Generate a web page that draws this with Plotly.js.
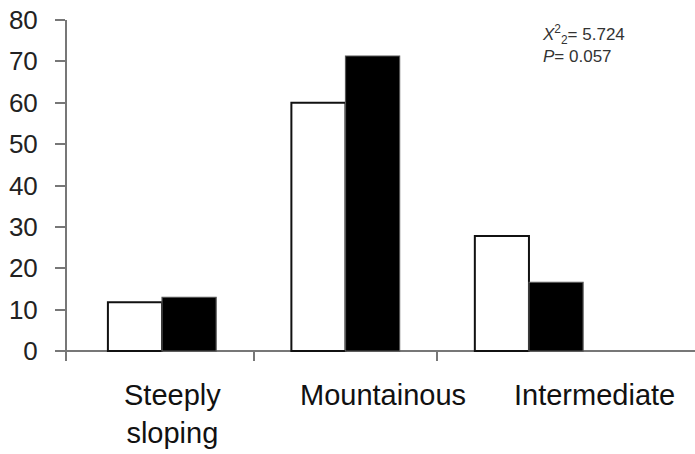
<!DOCTYPE html>
<html>
<head>
<meta charset="utf-8">
<script src="https://cdn.plot.ly/plotly-3.0.1.min.js"></script>
<style>html,body{margin:0;padding:0;background:#fff}#chart{width:695px;height:454px}</style>
</head>
<body>
<div id="chart"></div>
<script>
// Data
const categories = ["Steeply<br>sloping", "Mountainous", "Intermediate"];
const seriesWhite = [11.8, 60, 27.8];
const seriesBlack = [13, 71.3, 16.6];
const yTickVals = [0, 10, 20, 30, 40, 50, 60, 70, 80];
const statText = ["<i>X</i><sup>2</sup><sub>2</sub>= 5.724", "<i>P</i>= 0.057"];

// Styles / positions
const labelOffsets = [0.055, 0.205, 0.355];
const idx = categories.map((c, i) => i);
const FONT = '"Liberation Sans", Arial, sans-serif';

const traces = [
  {type: 'bar', x: idx, y: seriesWhite, marker: {color: '#ffffff', line: {color: '#111', width: 2}}, hoverinfo: 'none'},
  {type: 'bar', x: idx, y: seriesBlack, marker: {color: '#000000', line: {color: '#555', width: 1.2}}, hoverinfo: 'none'}
];

const annotations = categories.map((c, i) => ({
  x: i + labelOffsets[i], xref: 'x', y: 0, yref: 'paper', yanchor: 'top', xanchor: 'center',
  text: c, showarrow: false, font: {family: FONT, size: 29, color: '#111'}, yshift: -16
}));
annotations.push({
  x: 0.753, xref: 'paper', y: 1.0, yref: 'paper', xanchor: 'left', yanchor: 'top', align: 'left',
  text: statText.join('<br>'), showarrow: false, font: {family: FONT, size: 17, color: '#333'}
});

const layout = {
  width: 695, height: 454,
  margin: {l: 67, r: 0, t: 20, b: 93},
  paper_bgcolor: '#fff', plot_bgcolor: '#fff',
  showlegend: false,
  barmode: 'group', bargap: 0.41, bargroupgap: 0,
  font: {family: FONT, color: '#111'},
  xaxis: {
    range: [-0.518, 2.905], showgrid: false, zeroline: false, showline: false,
    tickmode: 'array', tickvals: [0.5, 1.5], showticklabels: false,
    ticks: 'inside', ticklen: 10, tickwidth: 2, tickcolor: '#777'
  },
  yaxis: {
    range: [-2.4, 80], showgrid: false,
    zeroline: true, zerolinecolor: '#777', zerolinewidth: 2,
    showline: true, linecolor: '#777', linewidth: 2,
    tickmode: 'array', tickvals: yTickVals, ticktext: yTickVals.map(String),
    ticks: 'outside', ticklen: 10, tickwidth: 2, tickcolor: '#777',
    ticklabelstandoff: 12,
    tickfont: {family: FONT, size: 26, color: '#222'}
  },
  annotations: annotations
};

Plotly.newPlot('chart', traces, layout, {staticPlot: true, displayModeBar: false});
</script>
</body>
</html>
